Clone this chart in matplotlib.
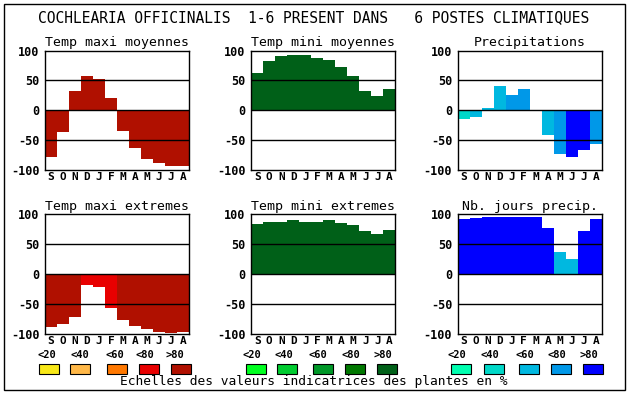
#### Pre-Amble ####
import numpy as np
import matplotlib
matplotlib.use('Agg')
import matplotlib.pyplot as plt
from matplotlib.patches import Rectangle

#### Data ####
months = ['S', 'O', 'N', 'D', 'J', 'F', 'M', 'A', 'M', 'J', 'J', 'A']
classes = ['<20', '<40', '<60', '<80', '>80']

temp_maxi_moy = [-78, -37, 32, 57, 52, 21, -35, -63, -82, -88, -94, -93]
temp_maxi_moy_cls = [4, 4, 4, 4, 4, 4, 4, 4, 4, 4, 4, 4]

temp_mini_moy = [63, 82, 91, 93, 93, 88, 84, 73, 58, 33, 24, 35]
temp_mini_moy_cls = [4, 4, 4, 4, 4, 4, 4, 4, 4, 4, 4, 4]

precip = [-14, -12, 4, 41, 26, 36, 0, -41, -74, -78, -66, -56]
precip_cls = [1, 2, 2, 2, 3, 3, 2, 2, 3, 4, 4, 3]

temp_maxi_ext = [-88, -83, -71, -18, -21, -56, -76, -86, -91, -96, -98, -96]
temp_maxi_ext_cls = [4, 4, 4, 3, 3, 3, 4, 4, 4, 4, 4, 4]

temp_mini_ext = [84, 87, 87, 90, 87, 87, 90, 85, 82, 72, 67, 73]
temp_mini_ext_cls = [4, 4, 4, 4, 4, 4, 4, 4, 4, 4, 4, 4]

jours_precip = [92, 93, 95, 95, 95, 95, 95, 77, 37, 25, 72, 92]
jours_precip_cls = [4, 4, 4, 4, 4, 4, 4, 4, 2, 2, 4, 4]

#### Colour scales ####
reds = ['#f8e818', '#ffb848', '#ff7800', '#e80000', '#b01000']
greens = ['#00ff20', '#00cc30', '#009828', '#007800', '#006018']
blues = ['#00ffb0', '#00d8c8', '#00b8e0', '#0098e8', '#0000ff']

panels = [
    ('Temp maxi moyennes', temp_maxi_moy, temp_maxi_moy_cls, reds),
    ('Temp mini moyennes', temp_mini_moy, temp_mini_moy_cls, greens),
    ('Precipitations', precip, precip_cls, blues),
    ('Temp maxi extremes', temp_maxi_ext, temp_maxi_ext_cls, reds),
    ('Temp mini extremes', temp_mini_ext, temp_mini_ext_cls, greens),
    ('Nb. jours precip.', jours_precip, jours_precip_cls, blues),
]

W, H = 630, 394
fig = plt.figure(figsize=(W/100, H/100), dpi=100)
mono = 'DejaVu Sans Mono'

def fx(px):
    return px / W

def fy(px):
    return 1 - px / H

col_x = [45, 251.3, 457.7]
row_y = [(50.5, 170), (214, 334)]

#### Outer frame ####
fig.add_artist(Rectangle((fx(4), fy(390)), fx(621), (386)/H, transform=fig.transFigure,
                         fill=False, edgecolor='black', linewidth=1.0))

fig.text(0.498, fy(18), 'COCHLEARIA OFFICINALIS  1-6 PRESENT DANS   6 POSTES CLIMATIQUES',
         ha='center', va='center', family=mono, fontsize=10.5)

#### Panels ####
for i, (title, vals, cls, cols) in enumerate(panels):
    r, c = divmod(i, 3)
    top, bot = row_y[r]
    ax = fig.add_axes([fx(col_x[c]), fy(bot), fx(144), (bot - top) / H])
    x = np.arange(len(vals))
    ax.bar(x, vals, width=1.0, align='edge', color=[cols[k] for k in cls], linewidth=0)
    for yv in (50, 0, -50):
        ax.axhline(yv, color='black', linewidth=1.0, zorder=3)
    ax.set_xlim(0, 12)
    ax.set_ylim(-100, 100)
    ax.set_yticks([-100, -50, 0, 50, 100])
    ax.set_yticklabels(['-100', '-50', '0', '50', '100'], family=mono,
                       fontweight='bold', fontsize=8.5)
    ax.set_xticks(x + 0.5)
    ax.set_xticklabels(months, family=mono, fontweight='bold', fontsize=8)
    ax.tick_params(length=0, pad=4)
    ax.tick_params(axis='x', pad=1.5)
    for s in ax.spines.values():
        s.set_linewidth(1.0)
    ax.set_title(title, family=mono, fontsize=9.5, pad=3)

#### Legends ####
box_x = [[39.3, 70.3, 107.3, 139, 171],
         [246, 277.3, 312.7, 345.3, 377.3],
         [451, 483.7, 519, 551, 583]]
label_x = [[47, 79.5, 114.5, 145, 175],
           [252, 284, 318, 351, 383],
           [457, 490, 525, 557, 589]]
for c, cols in enumerate([reds, greens, blues]):
    for k in range(5):
        fig.add_artist(Rectangle((fx(box_x[c][k]), fy(373.7)), fx(20), 9.4 / H,
                                 transform=fig.transFigure, facecolor=cols[k],
                                 edgecolor='black', linewidth=0.8))
        fig.text(fx(label_x[c][k]), fy(355), classes[k], ha='center', va='center',
                 family=mono, fontweight='bold', fontsize=7.5)

fig.text(fx(314), fy(382), 'Echelles des valeurs indicatrices des plantes en %',
         ha='center', va='center', family=mono, fontsize=9.3)

fig.savefig('out.png', dpi=100)
